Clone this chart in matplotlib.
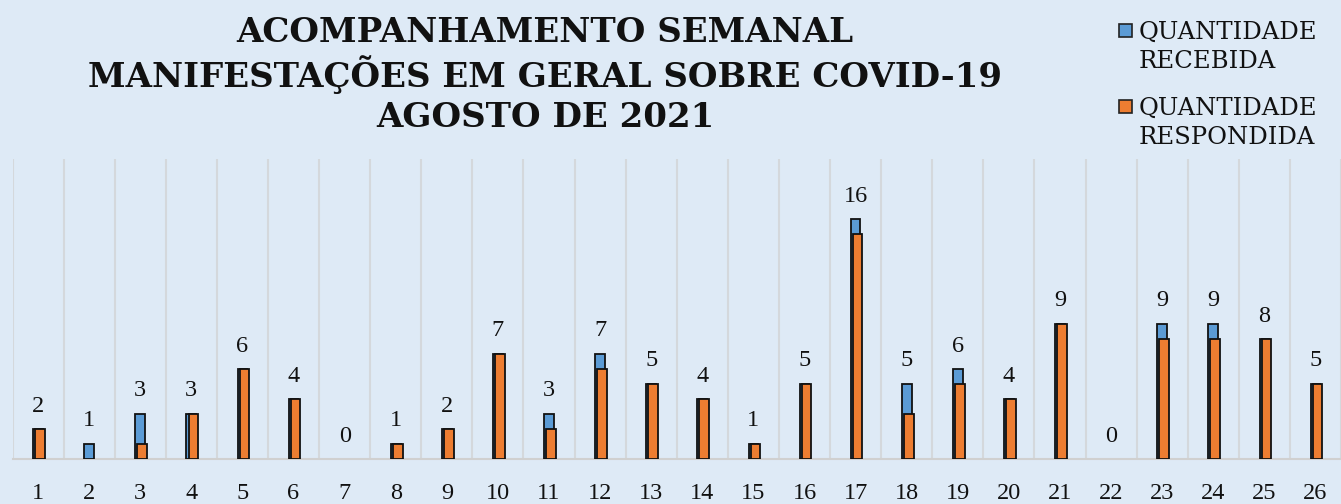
import matplotlib.pyplot as plt
from matplotlib.patches import Rectangle

# dias de agosto
days = list(range(1, 27))
# quantidade recebida / respondida por dia
recebida = [2, 1, 3, 3, 6, 4, 0, 1, 2, 7, 3, 7, 5, 4, 1, 5, 16, 5, 6, 4, 9, 0, 9, 9, 8, 5]
respondida = [2, 0, 1, 3, 6, 4, 0, 1, 2, 7, 2, 6, 5, 4, 1, 5, 15, 3, 5, 4, 9, 0, 8, 8, 8, 5]
title_lines = ['ACOMPANHAMENTO SEMANAL', 'MANIFESTAÇÕES EM GERAL SOBRE COVID-19', 'AGOSTO DE 2021']
legend_labels = ['QUANTIDADE\nRECEBIDA', 'QUANTIDADE\nRESPONDIDA']

bg = '#deeaf6'
blue = '#5b9bd5'
orange = '#ed7d31'
serif = ['Liberation Serif', 'DejaVu Serif']
wide = ['DejaVu Serif']

W, H = 1341, 504
fig = plt.figure(figsize=(W / 100, H / 100), dpi=100, facecolor=bg)
ax = fig.add_axes([12.5 / W, 45 / H, 1328.5 / W, 300 / H])
ax.set_facecolor(bg)

x = list(range(len(days)))
# sem contorno nas barras de valor zero
lw_rec = [1.3 if v > 0 else 0 for v in recebida]
lw_resp = [1.3 if v > 0 else 0 for v in respondida]
ax.bar(x, recebida, width=0.19, color=blue, edgecolor='#111111', linewidth=lw_rec, zorder=3)
ax.bar([i + 0.04 for i in x], respondida, width=0.19, color=orange, edgecolor='#111111',
       linewidth=lw_resp, zorder=4)

# rótulos com a quantidade recebida
for i, v in zip(x, recebida):
    ax.annotate(str(v), (i, v), xytext=(0, 9), textcoords='offset points',
                ha='center', va='bottom', fontsize=17.5, family=serif, color='#111111')

ax.set_xlim(-0.5, len(days) - 0.5)
ax.set_ylim(0, 20)
ax.set_xticks(x)
ax.set_xticklabels([str(d) for d in days], fontsize=17.5, family=serif, color='#111111')
ax.tick_params(axis='x', length=0, pad=17)
ax.set_yticks([])

# linhas de grade verticais entre categorias
for b in range(len(days) + 1):
    ax.axvline(b - 0.5, color='#d4d8dc', linewidth=1.5, zorder=1)

for s in ['top', 'right', 'left']:
    ax.spines[s].set_visible(False)
ax.spines['bottom'].set_color('#d0d0d0')
ax.spines['bottom'].set_linewidth(1.5)

for k, line in enumerate(title_lines):
    fig.text(545 / W, 1 - (33 + 42 * k) / H, line, ha='center', va='center',
             fontsize=24.5, fontweight='bold', family=wide, color='#111111')

# legenda desenhada à mão (marcador alinhado à primeira linha)
for k, (lab, col) in enumerate(zip(legend_labels, [blue, orange])):
    ytop = 21 + 76 * k
    fig.add_artist(Rectangle((1119 / W, 1 - (ytop + 16) / H), 13 / W, 13 / H,
                             transform=fig.transFigure, facecolor=col,
                             edgecolor='#222222', linewidth=1.2))
    fig.text(1139 / W, 1 - ytop / H, lab, ha='left', va='top', fontsize=17.5,
             family=wide, color='#111111', linespacing=1.35)

fig.savefig('out.png', dpi=100, facecolor=bg)
